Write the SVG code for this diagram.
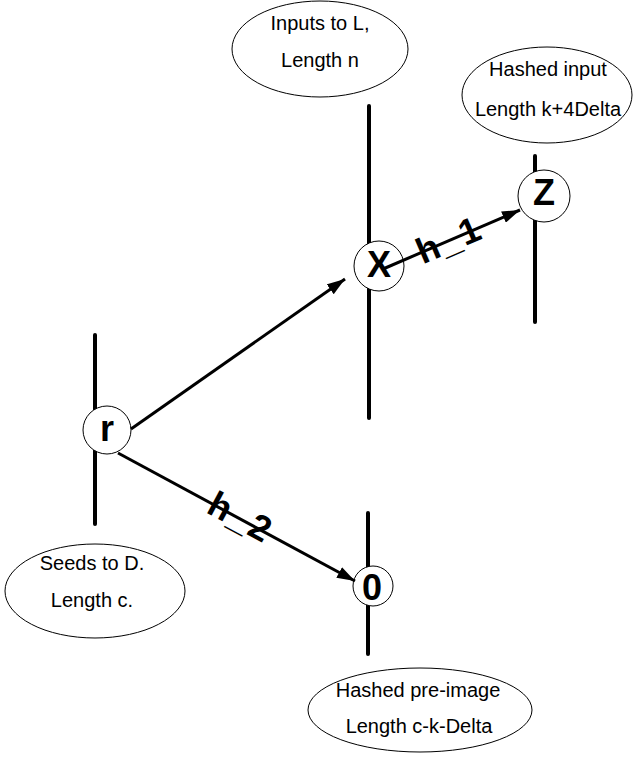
<svg xmlns="http://www.w3.org/2000/svg" width="640" height="765" viewBox="0 0 640 765">
<style>
.bg{fill:#fff}
.ell{fill:#fff;stroke:#000;stroke-width:1}
.lbl{font-family:"Liberation Sans",Arial,sans-serif;font-size:20px;fill:#000;text-anchor:middle}
.axis{stroke:#000;stroke-width:4;stroke-linecap:round;fill:none}
.node{fill:#fff;stroke:#000;stroke-width:1}
.nl{font-family:"Liberation Sans",Arial,sans-serif;font-size:36px;font-weight:bold;fill:#000;text-anchor:middle}
.edge{stroke:#000;stroke-width:3;fill:none;marker-end:url(#ah)}
.el{font-family:"Liberation Sans",Arial,sans-serif;font-size:36px;font-weight:bold;fill:#000;text-anchor:middle;letter-spacing:2px}
</style>
<defs>
<marker id="ah" viewBox="0 0 18 12" refX="18" refY="6" markerWidth="18" markerHeight="12" markerUnits="userSpaceOnUse" orient="auto">
<path d="M0,0 L18,6 L0,12 z" fill="#000"/>
</marker>
</defs>
<rect class="bg" x="0" y="0" width="640" height="765"/>
<g id="note-inputs">
<ellipse class="ell" cx="320" cy="49" rx="88" ry="48"/>
<text class="lbl" x="320" y="30">Inputs to L,</text>
<text class="lbl" x="320" y="67">Length n</text>
</g>
<g id="note-hashed-input">
<ellipse class="ell" cx="547" cy="95" rx="85" ry="48"/>
<text class="lbl" x="548" y="76">Hashed input</text>
<text class="lbl" x="548" y="116">Length k+4Delta</text>
</g>
<g id="note-seeds">
<ellipse class="ell" cx="95" cy="591" rx="90" ry="47"/>
<text class="lbl" x="92" y="570">Seeds to D.</text>
<text class="lbl" x="92" y="607">Length c.</text>
</g>
<g id="note-preimage">
<ellipse class="ell" cx="420" cy="710" rx="112" ry="42"/>
<text class="lbl" x="418" y="697">Hashed pre-image</text>
<text class="lbl" x="419" y="733">Length c-k-Delta</text>
</g>
<g id="node-r">
<line class="axis" x1="95" y1="335" x2="95" y2="524"/>
<circle class="node" cx="107" cy="430" r="24"/>
<text class="nl" x="107" y="441">r</text>
</g>
<g id="node-x">
<line class="axis" x1="369" y1="106" x2="369" y2="418"/>
<circle class="node" cx="379" cy="266" r="25"/>
<text class="nl" x="379" y="277">X</text>
</g>
<g id="node-z">
<line class="axis" x1="535" y1="156" x2="535" y2="322"/>
<circle class="node" cx="544" cy="196" r="26"/>
<text class="nl" x="544" y="205">Z</text>
</g>
<g id="node-0">
<line class="axis" x1="368" y1="513" x2="368" y2="654"/>
<circle class="node" cx="373" cy="586" r="20"/>
<text class="nl" x="372" y="600">0</text>
</g>
<g id="connectors">
<line class="edge" x1="131" y1="429" x2="345" y2="279"/>
<line class="edge" x1="118" y1="453" x2="355" y2="581"/>
<line class="edge" x1="383" y1="269" x2="520" y2="210"/>
<text class="el" transform="translate(454,251) rotate(-23.3)">h_1</text>
<text class="el" transform="translate(235,528) rotate(28.2)">h_2</text>
</g>
</svg>
